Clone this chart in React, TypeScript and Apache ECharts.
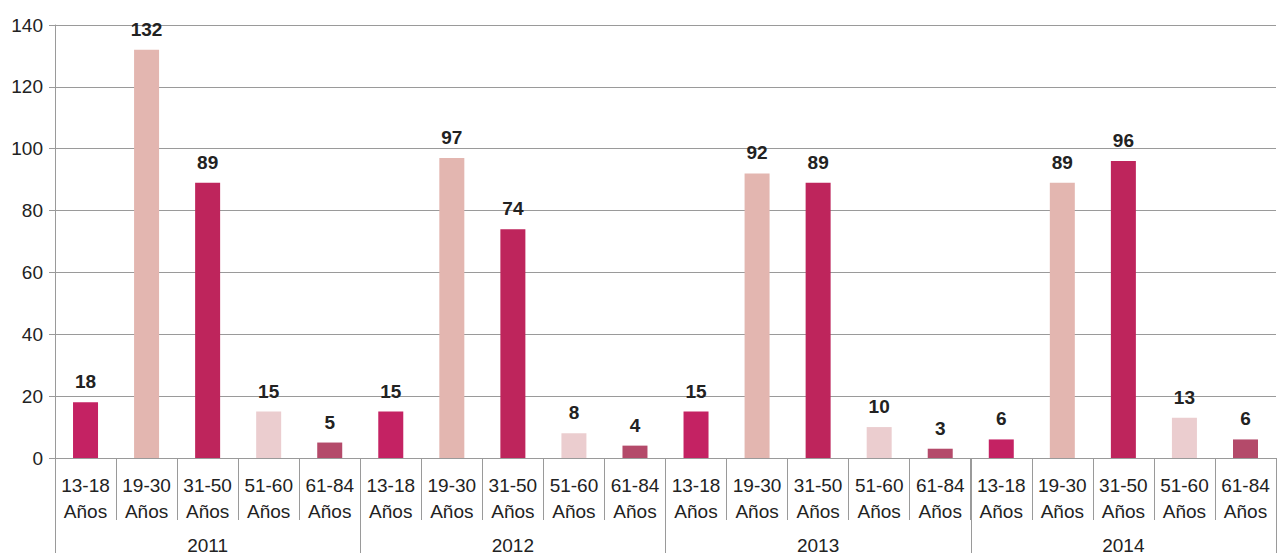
import React, { useEffect, useRef } from "react";
import * as echarts from "echarts";

const ageGroups = ["13-18\nAños", "19-30\nAños", "31-50\nAños", "51-60\nAños", "61-84\nAños"];
const years = ["2011", "2012", "2013", "2014"];
const values2011 = [18, 132, 89, 15, 5];
const values2012 = [15, 97, 74, 8, 4];
const values2013 = [15, 92, 89, 10, 3];
const values2014 = [6, 89, 96, 13, 6];
const groupColors = ["#C42263", "#E3B6B0", "#BE255C", "#EBCDCF", "#B44A6A"];
const yTicks = { min: 0, max: 140, interval: 20 };

const FONT = "'Liberation Sans Narrow', 'Liberation Sans', Arial, sans-serif";

export default function App() {
  const ref = useRef<HTMLDivElement>(null);
  useEffect(() => {
    document.body.style.margin = "0";
    const chart = echarts.init(ref.current!, null, { renderer: "svg" });
    const allValues = [values2011, values2012, values2013, values2014];
    const categories: string[] = [];
    const data: any[] = [];
    allValues.forEach((vals) => {
      vals.forEach((v, gi) => {
        categories.push(ageGroups[gi]);
        data.push({ value: v, itemStyle: { color: groupColors[gi] } });
      });
    });
    const gray = "#9a9a9a";
    chart.setOption({
      animation: false,
      textStyle: { fontFamily: FONT },
      grid: { left: 55, right: 1, top: 25, bottom: 95, containLabel: false },
      xAxis: [
        {
          type: "category",
          data: categories,
          position: "bottom",
          axisLine: { show: true, lineStyle: { color: gray, width: 1 } },
          axisTick: { show: true, interval: 0, length: 62, lineStyle: { color: gray } },
          axisLabel: {
            interval: 0,
            margin: 14,
            fontSize: 19,
            lineHeight: 26,
            color: "#222",
            fontFamily: FONT,
          },
        },
        {
          type: "category",
          data: years,
          position: "bottom",
          axisLine: { show: true, lineStyle: { color: gray, width: 1 } },
          axisTick: { show: true, interval: 0, length: 95, lineStyle: { color: gray } },
          axisLabel: {
            interval: 0,
            margin: 78,
            fontSize: 19,
            color: "#222",
            fontFamily: FONT,
          },
        },
      ],
      yAxis: {
        type: "value",
        min: yTicks.min,
        max: yTicks.max,
        interval: yTicks.interval,
        axisLine: { show: true, lineStyle: { color: gray } },
        axisTick: { show: true, length: 6, lineStyle: { color: gray } },
        splitLine: { show: true, lineStyle: { color: gray, width: 1 } },
        axisLabel: { fontSize: 19, color: "#222", margin: 12, fontFamily: FONT },
      },
      series: [
        {
          type: "bar",
          xAxisIndex: 0,
          data,
          barWidth: 25,
          label: {
            show: true,
            position: "top",
            distance: 11,
            fontSize: 19,
            fontWeight: "bold",
            color: "#222",
            fontFamily: FONT,
          },
        },
      ],
    });
    return () => chart.dispose();
  }, []);
  return <div ref={ref} style={{ width: 1277, height: 555 }} />;
}
